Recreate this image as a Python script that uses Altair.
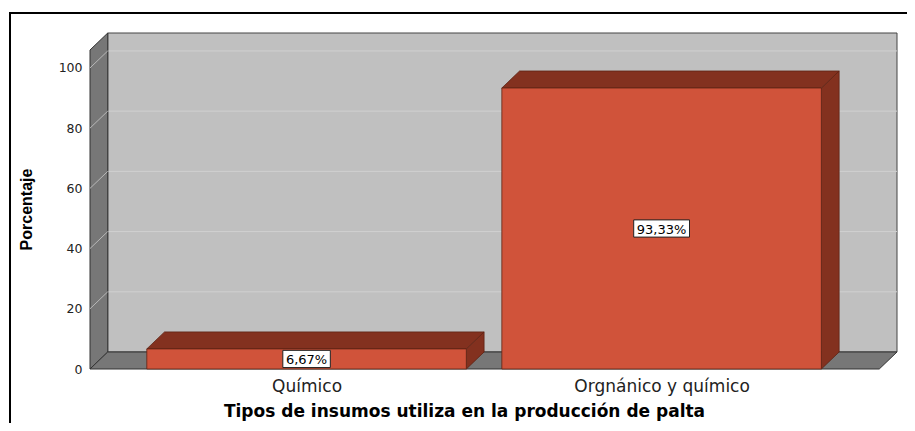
import json
import altair as alt
import pandas as pd

# ---- data ----
categories = ["Químico", "Orgnánico y químico"]
values = [6.67, 93.33]
value_labels = ["6,67%", "93,33%"]
y_ticks = [0, 20, 40, 60, 80, 100]

# ---- layout / style constants ----
X_MIN, X_MAX = -0.61, 1.663      # category units (category i centred at i)
Y_MAX = 111.6
DX, DY = 0.05, 5.65              # 3-D depth offset (x units, value units)
HALF = 0.45                      # half bar width
PX_PER_X = 807 / (X_MAX - X_MIN)
PX_PER_Y = 336 / Y_MAX
FLOOR_R = X_MAX - DX

BAR_FRONT = "#D0533A"
BAR_DARK = "#83311F"
BAR_EDGE = "#5E2314"
WALL_BACK = "#C0C0C0"
WALL_SIDE = "#777777"
GRID = "#D0D0D0"

xs = alt.Scale(domain=[X_MIN, X_MAX], nice=False, zero=False)
ys = alt.Scale(domain=[0, Y_MAX], nice=False, zero=False)

label_expr = "[" + ",".join(json.dumps(c) for c in categories) + "][datum.value]"
XAX = alt.Axis(values=list(range(len(categories))), labelExpr=label_expr,
               domain=False, ticks=False, grid=False, labelPadding=9,
               labelFontSize=17, labelFont="DejaVu Sans", labelColor="#222222",
               title="Tipos de insumos utiliza en la producción de palta",
               titleFont="DejaVu Sans", titleFontSize=17, titleFontWeight="bold",
               titleColor="#000000", titleX=374, titleY=47, titleBaseline="alphabetic",
               titleAnchor="middle", titleAlign="center")
YAX = alt.Axis(values=y_ticks, domain=False, ticks=False, grid=False,
               labelPadding=8, labelFontSize=12.5, labelFont="DejaVu Sans",
               labelColor="#222222", labelBaseline="middle",
               title="Porcentaje", titleFont="Liberation Sans",
               titleFontSize=16, titleFontWeight="bold", titleColor="#000000",
               titleAngle=270, titleX=-59, titleY=176, titleBaseline="alphabetic",
               titleAlign="center", titleAnchor="middle")


def X(f):
    return alt.X(f, type="quantitative", scale=xs, axis=XAX)


def Y(f):
    return alt.Y(f, type="quantitative", scale=ys, axis=YAX)


# ---- walls ----
back_df = pd.DataFrame([{"x": X_MIN + DX, "x2": X_MAX, "y": DY, "y2": Y_MAX}])
back = alt.Chart(back_df).mark_rect(fill=WALL_BACK, stroke="#444444", strokeWidth=1).encode(
    x=X("x"), x2="x2", y=Y("y"), y2="y2")

grid_df = pd.DataFrame({"y": [t + DY for t in y_ticks[1:]],
                        "x": X_MIN + DX, "x2": X_MAX})
grid = alt.Chart(grid_df).mark_rule(color=GRID, strokeWidth=1).encode(
    x=X("x"), x2="x2", y=Y("y"))

left_df = pd.DataFrame({"x": [X_MIN, X_MIN + DX], "y": [0, DY],
                        "y2": [Y_MAX - DY, Y_MAX]})
left = alt.Chart(left_df).mark_area(orient="vertical", fill=WALL_SIDE, stroke="#333333",
                                    strokeWidth=1).encode(x=X("x"), y=Y("y"), y2="y2")

diag_df = pd.DataFrame({"x": X_MIN, "x2": X_MIN + DX,
                        "y": y_ticks[1:], "y2": [t + DY for t in y_ticks[1:]]})
diag = alt.Chart(diag_df).mark_rule(color="#B8B8B8", strokeWidth=1).encode(
    x=X("x"), x2="x2", y=Y("y"), y2="y2")

floor_df = pd.DataFrame({"y": [0, DY], "x": [X_MIN, X_MIN + DX], "x2": [FLOOR_R, X_MAX]})
floor = alt.Chart(floor_df).mark_area(orient="horizontal", fill=WALL_SIDE, stroke="#333333",
                                      strokeWidth=1).encode(y=Y("y"), x=X("x"), x2="x2")

# ---- bars ----
front_rows, side_rows, top_rows, lab_rows = [], [], [], []
for i, (cat, v, lab) in enumerate(zip(categories, values, value_labels)):
    front_rows.append({"cat": cat, "x": i - HALF, "x2": i + HALF, "y": 0, "y2": v})
    side_rows += [{"cat": cat, "x": i + HALF, "y": 0, "y2": v},
                  {"cat": cat, "x": i + HALF + DX, "y": DY, "y2": v + DY}]
    top_rows += [{"cat": cat, "y": v, "x": i - HALF, "x2": i + HALF},
                 {"cat": cat, "y": v + DY, "x": i - HALF + DX, "x2": i + HALF + DX}]
    w = (len(lab) * 8.3 + 6) / PX_PER_X / 2
    h = 8.6 / PX_PER_Y
    lab_rows.append({"cat": cat, "lab": lab, "x": i, "y": v / 2,
                     "bx": i - w, "bx2": i + w, "by": v / 2 - h, "by2": v / 2 + h})

side = alt.Chart(pd.DataFrame(side_rows)).mark_area(
    orient="vertical", fill=BAR_DARK, stroke=BAR_EDGE, strokeWidth=0.8).encode(
    x=X("x"), y=Y("y"), y2="y2", detail="cat:N")
top = alt.Chart(pd.DataFrame(top_rows)).mark_area(
    orient="horizontal", fill=BAR_DARK, stroke=BAR_EDGE, strokeWidth=0.8).encode(
    y=Y("y"), x=X("x"), x2="x2", detail="cat:N")
front = alt.Chart(pd.DataFrame(front_rows)).mark_rect(
    fill=BAR_FRONT, stroke=BAR_EDGE, strokeWidth=0.8).encode(
    x=X("x"), x2="x2", y=Y("y"), y2="y2")

lab_df = pd.DataFrame(lab_rows)
boxes = alt.Chart(lab_df).mark_rect(fill="white", stroke="#222222", strokeWidth=1).encode(
    x=X("bx"), x2="bx2", y=Y("by"), y2="by2")
texts = alt.Chart(lab_df).mark_text(font="DejaVu Sans", fontSize=13, color="#000000",
                                    baseline="middle", align="center", dy=1).encode(
    x=X("x"), y=Y("y"), text="lab:N")

# ---- outer frame ----
frame = alt.Chart(pd.DataFrame([{"k": 1}])).mark_rect(
    fill="transparent", stroke="#000000", strokeWidth=2).encode(
    x=alt.value(-80), x2=alt.value(830), y=alt.value(-20), y2=alt.value(450))

chart = alt.layer(back, grid, left, diag, floor, side, top, front, boxes, texts, frame).properties(
    width=807, height=336,
    autosize=alt.AutoSizeParams(type="none"),
    padding={"left": 82, "top": 25, "right": 10, "bottom": 54},
    background="white",
).configure_view(stroke=None)

chart.save("out.html", embed_options={"renderer": "svg", "actions": False})
